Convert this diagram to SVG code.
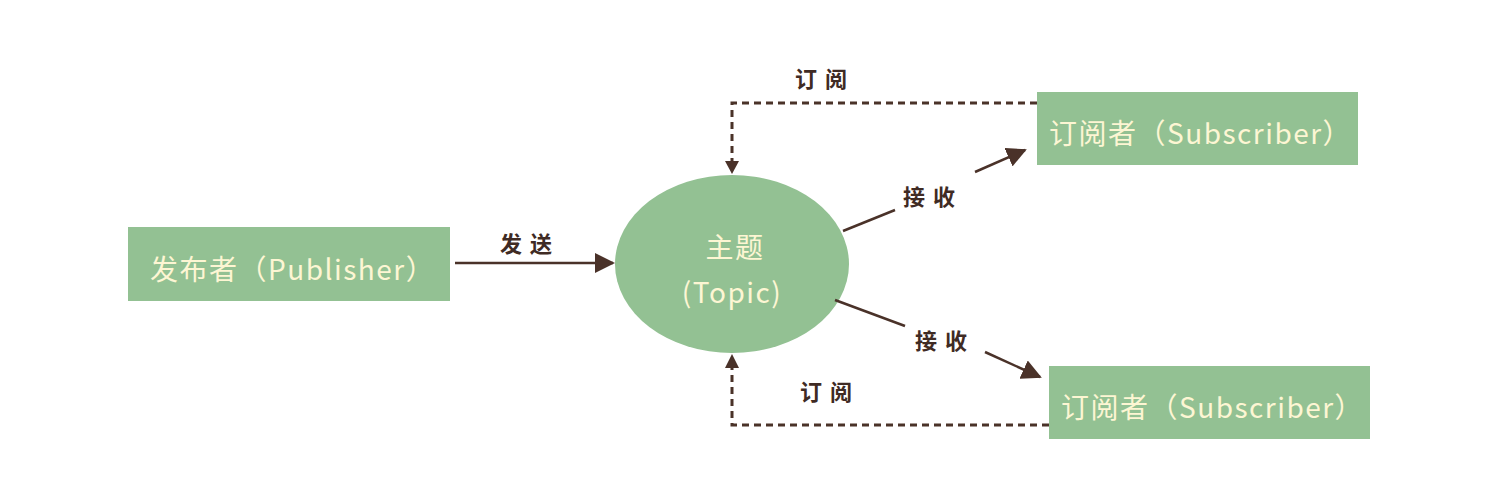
<svg xmlns="http://www.w3.org/2000/svg" width="1504" height="494" viewBox="0 0 1504 494">
<defs>
<style>
.box{fill:#93c193}
.nt{fill:#fdf6d3;font-family:"Noto Sans CJK SC","Noto Sans",sans-serif;font-size:28px;letter-spacing:1.5px}
.lbl{fill:#3f2b24;font-family:"Noto Sans CJK SC","Noto Sans",sans-serif;font-size:22px;font-weight:bold;letter-spacing:8px}
.ln{stroke:#4a3229;stroke-width:2.5;fill:none}
.dash{stroke:#4a3229;stroke-width:3;fill:none;stroke-dasharray:7 5}
</style>
<marker id="ahb" viewBox="0 0 10 10" refX="9" refY="5" markerWidth="8" markerHeight="8" orient="auto">
<path d="M0,0 L10,5 L0,10 z" fill="#4a3229"/>
</marker>
</defs>
<rect width="1504" height="494" fill="#ffffff"/>
<g id="publisher">
<rect class="box" x="128" y="227" width="322" height="74"/>
<text class="nt" x="150" y="280">发布者（Publisher）</text>
</g>
<g id="topic">
<ellipse cx="732" cy="264" rx="117" ry="89" fill="#93c193"/>
<text class="nt" x="735" y="258" text-anchor="middle" letter-spacing="8">主题</text>
<text class="nt" x="732" y="303" text-anchor="middle" font-size="24">(Topic)</text>
</g>
<g id="subscriber1">
<rect class="box" x="1037" y="92" width="321" height="73"/>
<text class="nt" x="1049" y="144">订阅者（Subscriber）</text>
</g>
<g id="subscriber2">
<rect class="box" x="1049" y="366" width="321" height="73"/>
<text class="nt" x="1061" y="418">订阅者（Subscriber）</text>
</g>
<g id="connectors">
<path class="ln" d="M455,263 L613,263" marker-end="url(#ahb)"/>
<text class="lbl" x="500" y="252">发送</text>
<path class="dash" d="M1037,103 L732,103 L732,164"/>
<path d="M725,161 L739,161 L732,174 z" fill="#4a3229"/>
<text class="lbl" x="795" y="87">订阅</text>
<path class="dash" d="M1049,425 L732,425 L732,365"/>
<path d="M725,368 L739,368 L732,354 z" fill="#4a3229"/>
<text class="lbl" x="800" y="400">订阅</text>
<path class="ln" d="M843,231 L895,210"/>
<path class="ln" d="M975,172 L1025,150" marker-end="url(#ahb)"/>
<text class="lbl" x="903" y="205">接收</text>
<path class="ln" d="M835,300 L905,326"/>
<path class="ln" d="M985,352 L1040,377" marker-end="url(#ahb)"/>
<text class="lbl" x="915" y="349">接收</text>
</g>
</svg>
